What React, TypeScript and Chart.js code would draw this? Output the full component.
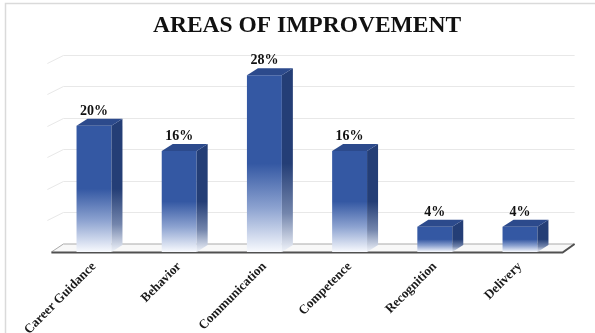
import React, { useEffect, useRef } from "react";
import { Chart, registerables } from "chart.js";

Chart.register(...registerables);

const TITLE = "AREAS OF IMPROVEMENT";
const categories = ["Career Guidance", "Behavior", "Communication", "Competence", "Recognition", "Delivery"];
const values = [20, 16, 28, 16, 4, 4];
const valueLabels = ["20%", "16%", "28%", "16%", "4%", "4%"];
const yTicks = { min: 0, max: 30, step: 5 };

const FRONT = "rgb(52,88,163)";
const SIDE = "rgb(36,62,118)";
const TOP = "rgb(44,74,140)";
const DX = 11;
const DY = -7;
const WALL_DX = 12;
const WALL_DY = -8;
const SERIF = "'Liberation Serif', 'Times New Roman', serif";

const frontGradient = (ctx: any) => {
  const chart = ctx.chart;
  const ys = chart.scales && chart.scales.y;
  if (!ys || ctx.type !== "data") return FRONT;
  const top = ys.getPixelForValue(ctx.raw);
  const base = ys.getPixelForValue(0);
  if (!isFinite(top) || !isFinite(base) || base - top < 1) return FRONT;
  const g = chart.ctx.createLinearGradient(0, top, 0, base);
  g.addColorStop(0, FRONT);
  g.addColorStop(0.5, FRONT);
  g.addColorStop(0.75, "rgb(140,162,208)");
  g.addColorStop(1, "rgb(248,250,254)");
  return g;
};

const decorPlugin = {
  id: "decor3d",
  beforeDraw(chart: any) {
    const c = chart.ctx;
    c.save();
    c.fillStyle = "#ffffff";
    c.fillRect(0, 0, chart.width, chart.height);
    c.strokeStyle = "rgb(218,218,218)";
    c.lineWidth = 1.5;
    c.beginPath();
    c.moveTo(5.5, chart.height);
    c.lineTo(5.5, 3.5);
    c.lineTo(chart.width, 3.5);
    c.stroke();
    c.restore();
  },
  beforeDatasetsDraw(chart: any) {
    const c = chart.ctx;
    const { left, right } = chart.chartArea;
    const ys = chart.scales.y;
    const bottom = ys.getPixelForValue(0);
    c.save();
    c.strokeStyle = "rgb(232,232,232)";
    c.lineWidth = 1;
    ys.ticks.forEach((t: any) => {
      if (t.value === 0) return;
      const yb = Math.round(ys.getPixelForValue(t.value) + WALL_DY) + 0.5;
      c.beginPath();
      c.moveTo(left - 4, yb - WALL_DY);
      c.lineTo(left + WALL_DX, yb);
      c.lineTo(right + WALL_DX, yb);
      c.stroke();
    });
    c.beginPath();
    c.moveTo(left, bottom);
    c.lineTo(right, bottom);
    c.lineTo(right + WALL_DX, bottom + WALL_DY);
    c.lineTo(left + WALL_DX, bottom + WALL_DY);
    c.closePath();
    c.fillStyle = "rgb(248,248,248)";
    c.fill();
    c.strokeStyle = "rgb(170,170,170)";
    c.lineWidth = 1;
    c.beginPath();
    c.moveTo(left, bottom);
    c.lineTo(left + WALL_DX, bottom + WALL_DY);
    c.lineTo(right + WALL_DX, bottom + WALL_DY);
    c.stroke();
    c.strokeStyle = "rgb(80,80,80)";
    c.lineWidth = 2;
    c.beginPath();
    c.moveTo(left, bottom + 0.5);
    c.lineTo(right, bottom + 0.5);
    c.lineTo(right + WALL_DX, bottom + WALL_DY);
    c.stroke();
    c.restore();
  },
  afterDatasetsDraw(chart: any) {
    const c = chart.ctx;
    const meta = chart.getDatasetMeta(0);
    c.save();
    meta.data.forEach((bar: any, i: number) => {
      const { x, y, base, width } = bar.getProps(["x", "y", "base", "width"], true);
      const l = x - width / 2;
      const r = x + width / 2;
      const g = c.createLinearGradient(0, y, 0, base);
      g.addColorStop(0, SIDE);
      g.addColorStop(0.5, SIDE);
      g.addColorStop(0.78, "rgb(115,133,172)");
      g.addColorStop(1, "rgb(242,245,251)");
      c.fillStyle = g;
      c.beginPath();
      c.moveTo(r, y);
      c.lineTo(r + DX, y + DY);
      c.lineTo(r + DX, base + DY);
      c.lineTo(r, base);
      c.closePath();
      c.fill();
      c.fillStyle = TOP;
      c.beginPath();
      c.moveTo(l, y);
      c.lineTo(l + DX, y + DY);
      c.lineTo(r + DX, y + DY);
      c.lineTo(r, y);
      c.closePath();
      c.fill();
      c.fillStyle = "#111111";
      c.font = `bold 14px ${SERIF}`;
      c.textAlign = "center";
      c.textBaseline = "alphabetic";
      c.fillText(valueLabels[i], x, y - 11);
    });
    c.restore();
  },
};

export default function App() {
  const ref = useRef<HTMLCanvasElement | null>(null);
  useEffect(() => {
    if (!ref.current) return;
    const chart = new Chart(ref.current, {
      type: "bar",
      data: {
        labels: categories,
        datasets: [
          {
            data: values,
            backgroundColor: frontGradient,
            borderWidth: 0,
            barPercentage: 0.41,
            categoryPercentage: 1,
          },
        ],
      },
      options: {
        responsive: false,
        animation: false,
        events: [],
        layout: { padding: { left: 51.4, right: 32.4, top: 0, bottom: 0 } },
        plugins: {
          legend: { display: false },
          tooltip: { enabled: false },
          title: {
            display: true,
            text: TITLE,
            color: "#111111",
            font: { family: SERIF, size: 23.5, weight: "bold", lineHeight: 1.2 },
            padding: { top: 11.5, bottom: 22.8 },
          },
        },
        scales: {
          x: {
            grid: { display: false, drawTicks: false },
            border: { display: false },
            ticks: {
              autoSkip: false,
              minRotation: 45,
              maxRotation: 45,
              padding: 7,
              color: "#1a1a1a",
              font: { family: SERIF, size: 13, weight: "bold" },
            },
            afterFit: (s: any) => {
              s.height = 81;
              s.paddingLeft = 0;
              s.paddingRight = 0;
            },
          },
          y: {
            min: yTicks.min,
            max: yTicks.max,
            ticks: { stepSize: yTicks.step, display: false },
            grid: { display: false, drawTicks: false },
            border: { display: false },
            afterFit: (s: any) => {
              s.width = 0;
              s.paddingTop = 0;
              s.paddingBottom = 0;
            },
          },
        },
      },
      plugins: [decorPlugin],
    });
    return () => chart.destroy();
  }, []);
  return (
    <div style={{ position: "absolute", left: 0, top: 0, width: 595, height: 333 }}>
      <canvas ref={ref} width={595} height={333} style={{ display: "block" }} />
    </div>
  );
}
